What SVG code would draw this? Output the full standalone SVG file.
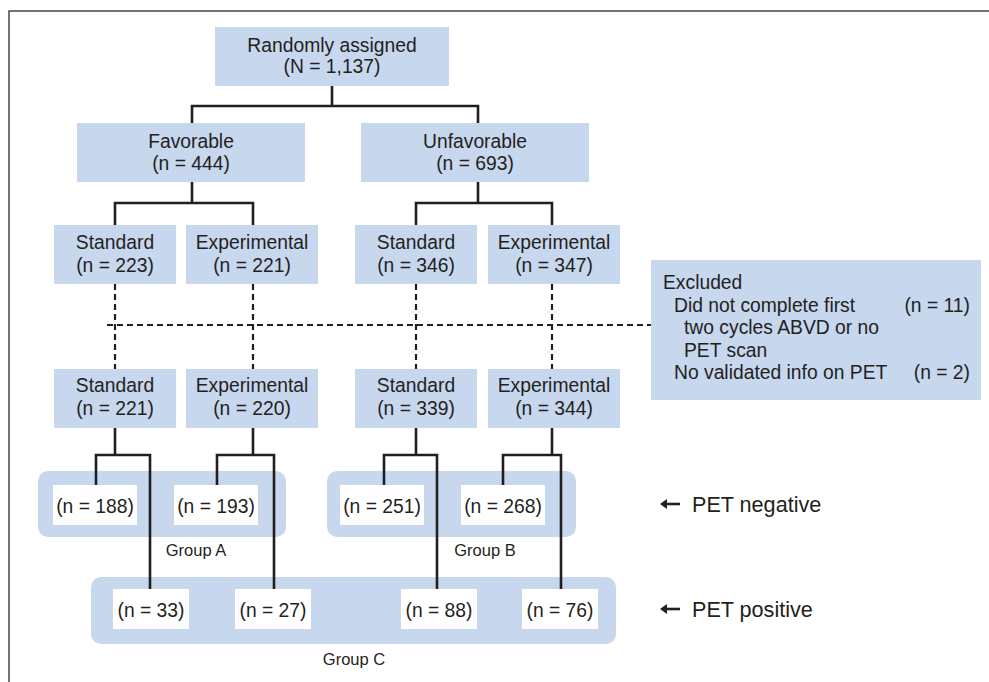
<svg xmlns="http://www.w3.org/2000/svg" width="989" height="682" viewBox="0 0 989 682">
<style>
.box{fill:#c6d7ee}
.wb{fill:#ffffff}
.grp{fill:#c6d7ee}
text{font-family:"Liberation Sans",Arial,sans-serif;fill:#231f20}
.t{font-size:19.3px;text-anchor:middle}
.tl{font-size:19.3px}
.g{font-size:16.5px;text-anchor:middle}
.pet{font-size:21.6px}
.ln{fill:none;stroke:#231f20;stroke-width:2.6}
.dash{fill:none;stroke:#231f20;stroke-width:2.2;stroke-dasharray:6 4}
.arr{fill:#231f20}
.arl{stroke:#231f20;stroke-width:2.6}
</style>
<rect width="989" height="682" fill="#ffffff"/>
<path d="M9,682 V11 H989" fill="none" stroke="#444" stroke-width="1.5"/>

<g id="groups">
<rect id="groupA" class="grp" x="38" y="471" width="248" height="66" rx="10"/>
<rect id="groupB" class="grp" x="327" y="471" width="249" height="66" rx="10"/>
<rect id="groupC" class="grp" x="91" y="577" width="525" height="67" rx="10"/>
<text class="g" x="196" y="556">Group A</text>
<text class="g" x="485" y="556">Group B</text>
<text class="g" x="354" y="665">Group C</text>
</g>

<g id="connectors">
<path class="ln" d="M332,86 V106 M192,123 V106 H478 V123"/>
<path class="ln" d="M192,182 V203 M115,225 V203 H253 V225"/>
<path class="ln" d="M478,182 V203 M416,225 V203 H552 V225"/>
<path class="dash" d="M115,284 V369 M253,284 V369 M416,284 V369 M552,284 V369 M107,325 H651"/>
<path class="ln" d="M115,428 V455 M96,485 V455 H150 V589"/>
<path class="ln" d="M253,428 V455 M217,485 V455 H274 V589"/>
<path class="ln" d="M416,428 V455 M384,485 V455 H437 V589"/>
<path class="ln" d="M552,428 V455 M503,485 V455 H561 V589"/>
</g>

<g id="n-random"><rect class="box" x="215" y="27" width="234" height="59"/>
<text class="t" x="332" y="52">Randomly assigned</text><text class="t" x="332" y="73">(N = 1,137)</text></g>
<g id="n-fav"><rect class="box" x="77" y="123" width="228" height="59"/>
<text class="t" x="191" y="148">Favorable</text><text class="t" x="191" y="170">(n = 444)</text></g>
<g id="n-unfav"><rect class="box" x="361" y="123" width="228" height="59"/>
<text class="t" x="475" y="148">Unfavorable</text><text class="t" x="475" y="170">(n = 693)</text></g>

<g id="n-fav-std"><rect class="box" x="54" y="225" width="122" height="59"/>
<text class="t" x="115" y="249">Standard</text><text class="t" x="115" y="272">(n = 223)</text></g>
<g id="n-fav-exp"><rect class="box" x="186" y="225" width="132" height="59"/>
<text class="t" x="252" y="249">Experimental</text><text class="t" x="252" y="272">(n = 221)</text></g>
<g id="n-unf-std"><rect class="box" x="355" y="225" width="122" height="59"/>
<text class="t" x="416" y="249">Standard</text><text class="t" x="416" y="272">(n = 346)</text></g>
<g id="n-unf-exp"><rect class="box" x="488" y="225" width="132" height="59"/>
<text class="t" x="554" y="249">Experimental</text><text class="t" x="554" y="272">(n = 347)</text></g>

<g id="n-excluded"><rect class="box" x="651" y="260" width="330" height="140"/>
<text class="tl" x="663" y="289">Excluded</text>
<text class="tl" x="674" y="312">Did not complete first</text>
<text class="tl" x="970" y="312" text-anchor="end">(n = 11)</text>
<text class="tl" x="684" y="334">two cycles ABVD or no</text>
<text class="tl" x="684" y="357">PET scan</text>
<text class="tl" x="674" y="379">No validated info on PET</text>
<text class="tl" x="970" y="379" text-anchor="end">(n = 2)</text></g>

<g id="n-fav-std2"><rect class="box" x="54" y="369" width="122" height="59"/>
<text class="t" x="115" y="392">Standard</text><text class="t" x="115" y="415">(n = 221)</text></g>
<g id="n-fav-exp2"><rect class="box" x="186" y="369" width="132" height="59"/>
<text class="t" x="252" y="392">Experimental</text><text class="t" x="252" y="415">(n = 220)</text></g>
<g id="n-unf-std2"><rect class="box" x="355" y="369" width="122" height="59"/>
<text class="t" x="416" y="392">Standard</text><text class="t" x="416" y="415">(n = 339)</text></g>
<g id="n-unf-exp2"><rect class="box" x="488" y="369" width="132" height="59"/>
<text class="t" x="554" y="392">Experimental</text><text class="t" x="554" y="415">(n = 344)</text></g>

<g id="n-188"><rect class="wb" x="53" y="485" width="84" height="40"/><text class="t" x="95" y="513">(n = 188)</text></g>
<g id="n-193"><rect class="wb" x="174" y="485" width="84" height="40"/><text class="t" x="216" y="513">(n = 193)</text></g>
<g id="n-251"><rect class="wb" x="340" y="485" width="84" height="40"/><text class="t" x="382" y="513">(n = 251)</text></g>
<g id="n-268"><rect class="wb" x="461" y="485" width="84" height="40"/><text class="t" x="503" y="513">(n = 268)</text></g>
<g id="n-33"><rect class="wb" x="113" y="589" width="76" height="40"/><text class="t" x="151" y="617">(n = 33)</text></g>
<g id="n-27"><rect class="wb" x="235" y="589" width="76" height="40"/><text class="t" x="273" y="617">(n = 27)</text></g>
<g id="n-88"><rect class="wb" x="401" y="589" width="76" height="40"/><text class="t" x="439" y="617">(n = 88)</text></g>
<g id="n-76"><rect class="wb" x="522" y="589" width="76" height="40"/><text class="t" x="560" y="617">(n = 76)</text></g>

<g id="legend-neg"><line class="arl" x1="666" y1="504" x2="680" y2="504"/><path class="arr" d="M660,504 L667,499 L667,509 Z"/>
<text class="pet" x="692" y="512">PET negative</text></g>
<g id="legend-pos"><line class="arl" x1="666" y1="609" x2="680" y2="609"/><path class="arr" d="M660,609 L667,604 L667,614 Z"/>
<text class="pet" x="692" y="617">PET positive</text></g>
</svg>
